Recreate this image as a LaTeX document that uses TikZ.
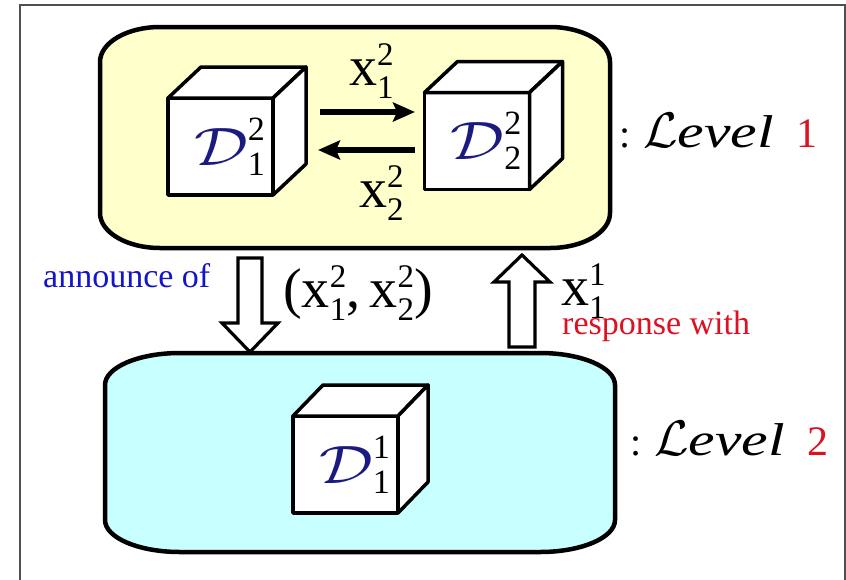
\RequirePackage{fix-cm}
\documentclass[tikz,border=0pt]{standalone}
\usepackage{fontspec}
\setmainfont{Liberation Serif}
\usepackage{graphicx}
\usetikzlibrary{arrows.meta,calc}
\definecolor{boxyellow}{HTML}{FFFFCC}
\definecolor{boxcyan}{HTML}{C8FFFF}
\definecolor{dnavy}{HTML}{1A1A80}
\definecolor{annblue}{HTML}{1414C8}
\definecolor{resred}{HTML}{DD1122}
\definecolor{framegray}{HTML}{505050}
\newcommand{\Dsym}[2]{{\fontsize{54}{60}\selectfont\color{dnavy}\scalebox{1.25}[1]{$\mathcal{D}$}}%
  \makebox[0pt][l]{\raisebox{-10pt}{\fontsize{34}{34}\selectfont #1}}%
  \raisebox{25pt}{\fontsize{34}{34}\selectfont #2}}
\newcommand{\xlab}[2]{{\fontsize{56}{60}\selectfont x}%
  \makebox[0pt][l]{\raisebox{-13pt}{\fontsize{33}{33}\selectfont #1}}%
  \raisebox{20pt}{\fontsize{33}{33}\selectfont #2}}
\newcommand{\levellab}[1]{{\fontsize{40}{48}\selectfont :}\hspace{13pt}%
  {\fontsize{50}{60}\selectfont$\mathcal{L}$}%
  \scalebox{1.3}[1]{\fontsize{46}{55}\selectfont\itshape evel}\hspace{22pt}%
  {\fontsize{42}{48}\selectfont\color{resred}#1}}
\newcommand{\cubefaces}[3]{%
  \draw[cubeface] (#1.north west) -- ++(#2,-#3) -- ($(#1.north east)+(#2,-#3)$) -- (#1.north east) -- cycle;
  \draw[cubeface] (#1.north east) -- ++(#2,-#3) -- ($(#1.south east)+(#2,-#3)$) -- (#1.south east) -- cycle;}
\begin{document}
\begin{tikzpicture}[x=1pt,y=-1pt,
  cubeface/.style={draw, line width=3.5pt, fill=white, line join=round},
  cubefront/.style={cubeface, rectangle, minimum width=105pt, minimum height=97pt, inner sep=0pt, outer sep=0pt},
  levelbox/.style={draw, line width=4.5pt},
  flow/.style={line width=5.5pt, -{Stealth[length=22pt,width=19pt,inset=4pt]}},
  blockarrow/.style={draw, line width=3.2pt, fill=white, line join=miter},
  lbl/.style={inner sep=0pt, anchor=base west}]
\useasboundingbox (0,0) rectangle (846,579);
\clip (0,0) rectangle (846,579);
\fill[white] (0,0) rectangle (846,579);
% outer frame
\draw[framegray, line width=2pt] (20,5) rectangle (845,600);
% level boxes
\draw[levelbox, fill=boxyellow] (160,27) -- (550,27) .. controls (583.1,27) and (610,42.7) .. (610,62) -- (610,213) .. controls (610,232.3) and (583.1,248) .. (550,248) -- (160,248) .. controls (126.9,248) and (100,232.3) .. (100,213) -- (100,62) .. controls (100,42.7) and (126.9,27) .. (160,27) -- cycle;
\draw[levelbox, fill=boxcyan] (180,353) -- (540,353) .. controls (581.4,353) and (615,367.3) .. (615,385) -- (615,520) .. controls (615,537.7) and (581.4,552) .. (540,552) -- (180,552) .. controls (138.6,552) and (105,537.7) .. (105,520) -- (105,385) .. controls (105,367.3) and (138.6,353) .. (180,353) -- cycle;
% cubes
\node[cubefront] (c1) at (220.5,146.5) {\hspace*{18pt}\Dsym{1}{2}};
\cubefaces{c1}{33}{31}
\node[cubefront] (c2) at (477,141) {\hspace*{18pt}\Dsym{2}{2}};
\cubefaces{c2}{33}{31}
\node[cubefront] (c3) at (345.5,464.5) {\hspace*{18pt}\Dsym{1}{1}};
\cubefaces{c3}{30}{31}
% exchange arrows
\draw[flow] ([xshift=47pt,yshift=34.5pt]c1.east) -- ([xshift=-9.5pt,yshift=29pt]c2.west);
\draw[flow] ([xshift=-9.5pt,yshift=-9pt]c2.west) -- ([xshift=45pt,yshift=-3.5pt]c1.east);
\node[lbl] (xa) at (349,85) {\xlab{1}{2}};
\node[lbl] (xb) at (359,207) {\xlab{2}{2}};
% block arrows between levels
\draw[blockarrow] (238,258) -- (262,258) -- (262,323) -- (278,323) -- (250,352) -- (222,323) -- (238,323) -- cycle;
\draw[blockarrow] (509,347) -- (535,347) -- (535,282) -- (550,282) -- (522,255) -- (494,282) -- (509,282) -- cycle;
\node[lbl, text=annblue] (ann) at (43,287) {\fontsize{34}{40}\selectfont announce of};
\node[lbl] (xpair) at (283,307) {{\fontsize{56}{60}\selectfont (}\xlab{1}{2}{\fontsize{56}{60}\selectfont ,\,}\xlab{2}{2}{\fontsize{56}{60}\selectfont )}};
\node[lbl] (xr) at (561,305) {\xlab{1}{1}};
\node[lbl, text=resred] (resp) at (562,334) {\fontsize{34}{40}\selectfont response with};
% level labels
\node[lbl] (lv1) at (619,147) {\levellab{1}};
\node[lbl] (lv2) at (630,455) {\levellab{2}};
\end{tikzpicture}
\end{document}
